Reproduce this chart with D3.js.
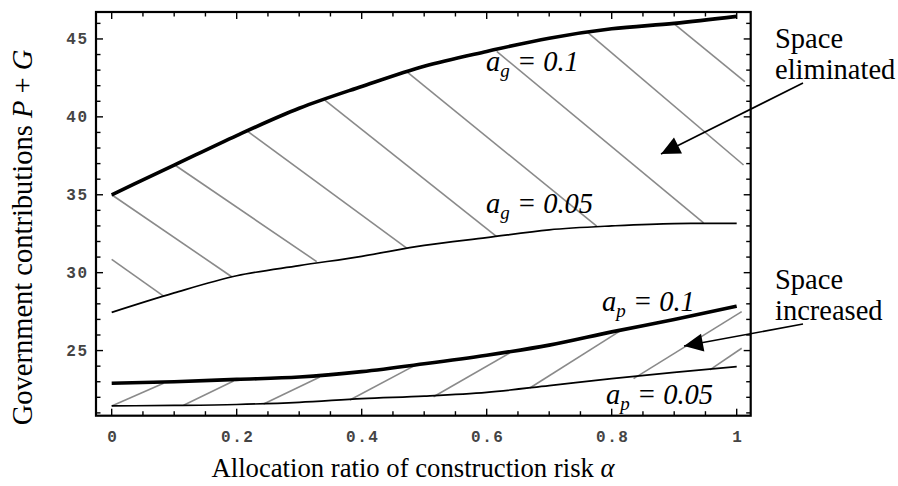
<!DOCTYPE html>
<html><head><meta charset="utf-8">
<script src="https://cdn.jsdelivr.net/npm/d3@7"></script>
<style>
html,body{margin:0;padding:0;background:#fff;}
svg{display:block;}
</style></head>
<body>
<svg id="chart" width="898" height="486"></svg>
<script>
// ---------- data ----------
const alpha = [0, 0.1, 0.2, 0.3, 0.4, 0.5, 0.6, 0.7, 0.8, 0.9, 1.0];
const ag010 = [35.0, 36.9, 38.8, 40.55, 41.95, 43.25, 44.2, 45.05, 45.65, 46.0, 46.45];
const ag005 = [27.45, 28.7, 29.8, 30.45, 31.05, 31.75, 32.25, 32.75, 33.0, 33.15, 33.17];
const ap010 = [22.9, 23.0, 23.15, 23.3, 23.65, 24.15, 24.7, 25.35, 26.2, 27.0, 27.85];
const ap005 = [21.45, 21.48, 21.54, 21.68, 21.92, 22.08, 22.32, 22.75, 23.2, 23.6, 23.97];
// hatch segments [alpha1, value1, alpha2, value2]
const hatchUpper = [
  [0, 30.85, 0.083, 28.5],
  [0, 35.0, 0.192, 29.74],
  [0.101, 36.91, 0.328, 30.71],
  [0.216, 39.11, 0.472, 31.57],
  [0.341, 41.08, 0.616, 32.31],
  [0.472, 42.9, 0.776, 32.98],
  [0.616, 44.2, 0.947, 33.2],
  [0.76, 45.47, 1.011, 36.91],
  [0.899, 46.0, 1.013, 42.26]
];
const hatchLower = [
  [0, 21.44, 0.083, 22.9],
  [0.115, 21.49, 0.195, 23.05],
  [0.243, 21.57, 0.333, 23.3],
  [0.381, 21.83, 0.483, 24.0],
  [0.515, 22.04, 0.637, 24.85],
  [0.669, 22.6, 0.813, 26.25],
  [0.835, 23.2, 1.008, 27.5],
  [0.957, 23.76, 1.008, 25.15]
];
const xMajorTicks = [0, 0.2, 0.4, 0.6, 0.8, 1];
const xTickLabels = ["0", "0.2", "0.4", "0.6", "0.8", "1"];
const yMajorTicks = [25, 30, 35, 40, 45];
const yTickLabels = ["25", "30", "35", "40", "45"];
const xDomain = [-0.0251, 1.0224];
const yDomain = [20.82, 46.73];

// ---------- layout ----------
const L = 96, R = 750.7, T = 12, B = 415.7;
const svg = d3.select("#chart");
const x = d3.scaleLinear().domain(xDomain).range([L, R]);
const y = d3.scaleLinear().domain(yDomain).range([B, T]);

// hatch lines
const gh = svg.append("g").attr("stroke", "#8a8a8a").attr("stroke-width", 1.6).attr("fill", "none");
gh.selectAll("line").data(hatchUpper.concat(hatchLower)).join("line")
  .attr("x1", d => x(d[0])).attr("y1", d => y(d[1]))
  .attr("x2", d => x(d[2])).attr("y2", d => y(d[3]));

// curves
const mk = vals => alpha.map((a, i) => [a, vals[i]]);
const line = d3.line().x(d => x(d[0])).y(d => y(d[1])).curve(d3.curveMonotoneX);
const curves = [
  {v: ag010, w: 3.6},
  {v: ag005, w: 1.7},
  {v: ap010, w: 3.6},
  {v: ap005, w: 1.7}
];
svg.append("g").selectAll("path").data(curves).join("path")
  .attr("d", d => line(mk(d.v)))
  .attr("fill", "none").attr("stroke", "#000").attr("stroke-width", d => d.w)
  .attr("stroke-linejoin", "round");

// ticks (inward, all four sides)
const xMinor = d3.range(0, 1.0001, 0.05);
const yMinor = d3.range(21, 46.5, 1);
const isMajX = v => xMajorTicks.some(m => Math.abs(m - v) < 1e-6);
const isMajY = v => yMajorTicks.some(m => Math.abs(m - v) < 1e-6);
const gt = svg.append("g").attr("stroke", "#000").attr("stroke-width", 1.4);
xMinor.forEach(v => {
  const len = isMajX(v) ? 7 : 4.5;
  gt.append("line").attr("x1", x(v)).attr("x2", x(v)).attr("y1", B).attr("y2", B - len);
  gt.append("line").attr("x1", x(v)).attr("x2", x(v)).attr("y1", T).attr("y2", T + len);
});
yMinor.forEach(v => {
  const len = isMajY(v) ? 7 : 4.5;
  gt.append("line").attr("y1", y(v)).attr("y2", y(v)).attr("x1", L).attr("x2", L + len);
  gt.append("line").attr("y1", y(v)).attr("y2", y(v)).attr("x1", R).attr("x2", R - len);
});

// frame
svg.append("rect").attr("x", L).attr("y", T).attr("width", R - L).attr("height", B - T)
  .attr("fill", "none").attr("stroke", "#000").attr("stroke-width", 2.2);

// tick labels
const mono = "'Liberation Mono', 'DejaVu Sans Mono', monospace";
const gxl = svg.append("g").attr("font-family", mono).attr("font-size", "16px")
  .attr("font-weight", "bold").attr("fill", "#444");
gxl.selectAll("text.xl").data(xMajorTicks).join("text").attr("class", "xl")
  .attr("x", d => x(d) + 1).attr("y", 442)
  .attr("text-anchor", "middle").attr("letter-spacing", "1.5px")
  .text((d, i) => xTickLabels[i]);
gxl.selectAll("text.yl").data(yMajorTicks).join("text").attr("class", "yl")
  .attr("x", 88.5).attr("y", d => y(d) + 5)
  .attr("text-anchor", "end").attr("letter-spacing", "1.5px")
  .text((d, i) => yTickLabels[i]);

// axis titles
const serif = "'Liberation Serif', 'Times New Roman', serif";
const xt = svg.append("text").attr("x", 413).attr("y", 477).attr("text-anchor", "middle")
  .attr("font-family", serif).attr("font-size", "26.7px").attr("fill", "#000");
xt.append("tspan").text("Allocation ratio of construction risk ");
xt.append("tspan").attr("font-style", "italic").text("α");

const yt = svg.append("text").attr("transform", "translate(32,237.5) rotate(-90)").attr("text-anchor", "middle")
  .attr("font-family", serif).attr("font-size", "28.5px").attr("fill", "#000");
yt.append("tspan").text("Government contributions ");
yt.append("tspan").attr("font-style", "italic").text("P");
yt.append("tspan").text(" + ");
yt.append("tspan").attr("font-style", "italic").text("G");

// curve labels
function subLabel(px, py, sub, val) {
  const t = svg.append("text").attr("x", px).attr("y", py)
    .attr("font-family", serif).attr("font-size", "28.5px").attr("font-style", "italic").attr("fill", "#000");
  t.append("tspan").text("a");
  t.append("tspan").attr("font-size", "19px").attr("dy", 6).text(sub);
  t.append("tspan").attr("dy", -6).text(" = " + val);
}
subLabel(486, 71, "g", "0.1");
subLabel(486, 213, "g", "0.05");
subLabel(602, 311, "p", "0.1");
subLabel(606, 404, "p", "0.05");

// annotations
function note(px, py, lines, gap) {
  const t = svg.append("text").attr("font-family", serif).attr("font-size", "28.5px").attr("fill", "#000");
  lines.forEach((s, i) => t.append("tspan").attr("x", px).attr("y", py + i * gap).text(s));
}
note(775, 48, ["Space", "eliminated"], 31);
note(775, 289, ["Space", "increased"], 31);

function arrow(x0, y0, x1, y1) {
  svg.append("line").attr("x1", x0).attr("y1", y0).attr("x2", x1).attr("y2", y1)
    .attr("stroke", "#000").attr("stroke-width", 1.6);
  const ang = Math.atan2(y1 - y0, x1 - x0);
  const len = 19, hw = 9;
  const bx = x1 - len * Math.cos(ang), by = y1 - len * Math.sin(ang);
  const px = -Math.sin(ang) * hw, py = Math.cos(ang) * hw;
  svg.append("path").attr("d", `M${x1},${y1}L${bx + px},${by + py}L${bx - px},${by - py}Z`).attr("fill", "#000");
}
arrow(803, 83, 661, 154);
arrow(803, 324, 684, 346);
</script>
</body></html>
